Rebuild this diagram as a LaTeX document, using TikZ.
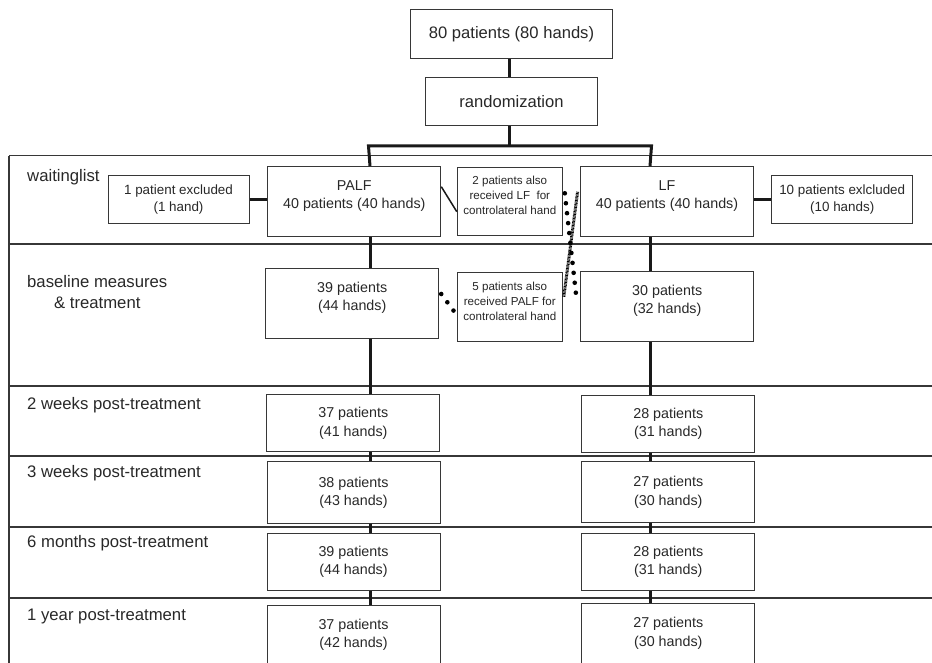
\documentclass[tikz,border=0pt]{standalone}
\usepackage{fontspec}
\setmainfont{Liberation Sans}
\usepackage{tikz}
\usetikzlibrary{calc}
\definecolor{ink}{RGB}{40,40,40}
\definecolor{boxgray}{RGB}{55,55,55}
\definecolor{linegray}{RGB}{25,25,25}
\tikzset{%
  box/.style={draw=boxgray, line width=1pt, fill=white, text=ink, align=center, inner sep=0pt},
  bigbox/.style={box, font=\fontsize{16.6}{20}\selectfont},
  armbox/.style={box, font=\fontsize{14.3}{18.3}\selectfont, minimum width=173, text depth=14pt},
  fupbox/.style={box, font=\fontsize{14.3}{18.3}\selectfont, minimum width=173},
  exclbox/.style={box, font=\fontsize{13.4}{17.3}\selectfont, minimum width=141, minimum height=47.6},
  notebox/.style={box, font=\fontsize{11.6}{15}\selectfont, minimum width=105, text depth=11.5pt},
  lbl/.style={text=ink, inner sep=0pt, anchor=west, font=\fontsize{16.7}{21}\selectfont},
  trunk/.style={draw=linegray, line width=3pt},
  sepline/.style={draw=boxgray, line width=2pt},
  dotline/.style={draw=black, line width=4.6pt, line cap=round},
  hatch/.style={draw=black, line width=3pt, dash pattern=on 0.8pt off 0.6pt}
}

\begin{document}
\begin{tikzpicture}[x=1pt,y=-1pt]
\useasboundingbox (0,0) rectangle (932,663);
% frame and rows
\draw[draw=boxgray, line width=1pt] (932,156) -- (9,156);
\draw[draw=boxgray, line width=1.5pt] (9,156) -- (9,680);
\foreach \y in {244,385.7,456,527,598}
  \draw[sepline] (9,\y) -- (932,\y);
% row labels
\node[lbl] (lwait) at (27,176.7) {waitinglist};
\node[lbl, align=center] (lbase) at (27,292) {baseline measures\\\& treatment};
\node[lbl] (lwk2) at (27,405) {2 weeks post-treatment};
\node[lbl] (lwk3) at (27,473.3) {3 weeks post-treatment};
\node[lbl] (lmo6) at (27,543.3) {6 months post-treatment};
\node[lbl] (lyr1) at (27,616.7) {1 year post-treatment};
% top
\node[bigbox, minimum width=201.6, minimum height=49] (total) at (511.5,34.5) {80 patients (80 hands)};
\node[bigbox, minimum width=171.6, minimum height=48.3] (rand) at (511.5,101.8) {randomization};
% waitinglist
\node[exclbox] (exclL) at (178.5,199.5) {1 patient excluded\\(1 hand)};
\node[armbox, minimum height=70] (palf) at (354.3,201.7) {PALF\\40 patients (40 hands)};
\node[notebox, minimum height=67.7] (also2) at (509.8,201.2) {2 patients also\\received LF\ \ for\\controlateral hand};
\node[armbox, minimum height=70] (lf) at (667,201.7) {LF\\40 patients (40 hands)};
\node[exclbox] (exclR) at (842.2,199.5) {10 patients exlcluded\\(10 hands)};
% baseline
\node[armbox, minimum height=70.3] (basel) at (352.2,303.2) {39 patients\\(44 hands)};
\node[notebox, minimum height=69] (also5) at (509.8,307.2) {5 patients also\\received PALF for\\controlateral hand};
\node[armbox, minimum height=69.3] (baser) at (667.2,306.4) {30 patients\\(32 hands)};
% follow-up
\node[fupbox, minimum height=56.7] (wk2l) at (353.3,423.3) {37 patients\\(41 hands)};
\node[fupbox, minimum height=61.6] (wk3l) at (353.5,492.5) {38 patients\\(43 hands)};
\node[fupbox, minimum height=56.7] (mo6l) at (353.5,561.7) {39 patients\\(44 hands)};
\node[fupbox, minimum height=60] (yr1l) at (353.5,635) {37 patients\\(42 hands)};
\node[fupbox, minimum height=57.3] (wk2r) at (668.3,423.7) {28 patients\\(31 hands)};
\node[fupbox, minimum height=61] (wk3r) at (668.3,492.2) {27 patients\\(30 hands)};
\node[fupbox, minimum height=56.7] (mo6r) at (668.3,561.7) {28 patients\\(31 hands)};
\node[fupbox, minimum height=60] (yr1r) at (668.3,633.3) {27 patients\\(30 hands)};
% connectors
\coordinate (jl) at (370,146);
\coordinate (jm) at (509,146);
\coordinate (jr) at (650,146);
\draw[trunk] (total.south -| jm) -- (rand.north -| jm);
\draw[trunk] (rand.south -| jm) -- (jm);
\draw[trunk] (jl |- palf.north) -- ([xshift=-1.5pt]jl) -- ([xshift=1.5pt]jr) -- (jr |- lf.north);
\foreach \a/\b in {palf/basel,basel/wk2l,wk2l/wk3l,wk3l/mo6l,mo6l/yr1l}
  \draw[trunk] (\a.south -| jl) -- (\b.north -| jl);
\foreach \a/\b in {lf/baser,baser/wk2r,wk2r/wk3r,wk3r/mo6r,mo6r/yr1r}
  \draw[trunk] (\a.south -| jr) -- (\b.north -| jr);
\draw[trunk] (exclL.east) -- (exclL.east -| palf.west);
\draw[trunk] (lf.east |- exclR.west) -- (exclR.west);
\draw[draw=linegray, line width=1.5pt] ($(palf.east)+(0,-15)$) -- ($(also2.west)+(0,10.5)$);
\draw[dotline, dash pattern=on 0pt off 10.3pt] ($(basel.east)+(2,-9.2)$) -- ($(also5.west)+(-3,3.8)$);
\draw[dotline, dash pattern=on 0pt off 10pt] ($(also2.east)+(2,-7.9)$) -- ($(baser.west)+(-4.3,-13.1)$);
\draw[hatch] ($(also5.east)+(1,-10.5)$) -- ($(lf.west)+(-2.4,-10)$);
\end{tikzpicture}
\end{document}
